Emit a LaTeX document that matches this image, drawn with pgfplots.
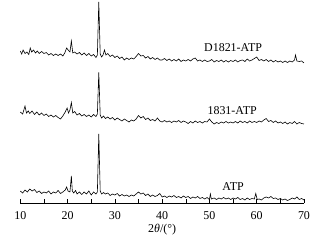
\documentclass[border=0pt]{standalone}
\usepackage{fontspec}
\setmainfont{Liberation Serif}
\usepackage{pgfplots}
\pgfplotsset{compat=1.18}
\pgfplotstableread{
x y
10.0 12
10.5 10
11.0 13
11.5 11
12.0 14
12.5 12
13.0 13.5
13.5 10.5
14.0 12
14.5 9.5
15.0 11
15.5 10
16.0 12
16.5 9
17.0 11
17.5 10
18.0 12.5
18.5 9.5
19.0 11
19.5 13
19.8 16
20.1 12
20.5 11
20.8 27
21.0 12
21.3 10
21.7 12.5
22.0 9
22.5 11
23.0 8.5
23.5 11
24.0 9
24.5 12
25.0 8
25.5 11
26.0 9
26.3 11
26.6 69
26.9 12
27.2 9
27.6 10.5
28.0 9
28.5 10
29.0 7.5
29.5 9
30.0 8
30.5 9.5
31.0 7
31.5 8.5
32.0 7
32.5 8
33.0 6.5
33.5 8
34.0 7
34.5 9
35.0 11
35.5 9
36.0 10
36.5 7.5
37.0 9
37.5 6.5
38.0 8
38.5 6.5
39.0 7.5
39.5 9.5
40.0 6
40.5 7
41.0 5.5
41.5 7
42.0 6
42.5 7.5
43.0 5.5
43.5 6.5
44.0 5
44.5 7
45.0 5.5
45.5 6.5
46.0 4.5
46.5 6
47.0 5
47.5 6.5
48.0 4.5
48.5 5.5
49.0 4
49.5 5.5
50.0 3.5
50.2 9
50.4 4
51.0 5
51.5 3.5
52.0 5
52.5 4
53.0 5.5
53.5 4
54.0 5
54.5 3.5
55.0 5
55.5 4
56.0 5.5
56.5 3.5
57.0 4.5
57.5 3
58.0 5
58.5 3.5
59.0 4.5
59.5 4
59.8 9.5
60.1 3.5
60.5 4
61.0 3
61.5 5
62.0 6
62.5 5
63.0 6.5
63.5 4.5
64.0 5
64.5 3.5
65.0 4.5
65.5 3
66.0 4
66.5 2.5
67.0 3.5
67.5 5
68.0 4
68.5 6
69.0 3.5
69.5 4.5
70.0 3
}\atp
\pgfplotstableread{
x y
10.0 91
10.5 89
11.0 97
11.3 90
11.7 92
12.0 89.5
12.5 92
13.0 88.5
13.5 91
14.0 88
14.5 90
15.0 87.5
15.5 89
16.0 86.5
16.5 88
17.0 86
17.5 87.5
18.0 85.5
18.5 84
19.0 87
19.5 91
19.9 95
20.2 90
20.5 93
20.8 100.5
21.1 90
21.5 91.5
22.0 88
22.5 89.5
23.0 87
23.5 88.5
24.0 86.5
24.5 88
25.0 86
25.5 88.5
26.0 86.5
26.3 89
26.6 130.5
26.9 88
27.2 85
27.6 87
28.0 84.5
28.5 86
29.0 84
29.5 85.5
30.0 83
30.5 85
31.0 83.5
31.5 82
32.0 84
32.5 82.5
33.0 81
33.5 83
34.0 82
34.5 84
35.0 87.5
35.5 85
36.0 86.5
36.5 83.5
37.0 85
37.5 82.5
38.0 83.5
38.5 82
39.0 85
39.5 82
40.0 81
40.5 82.5
41.0 81
41.5 82
42.0 80.5
42.5 82
43.0 81
43.5 82.5
44.0 80.5
44.5 82
45.0 81
45.5 79.5
46.0 81.5
46.5 80
47.0 82
47.5 80.5
48.0 81.5
48.5 80
49.0 81.5
49.5 81
50.0 84
50.5 81
51.0 79
51.5 80.5
52.0 79.5
52.5 81
53.0 80
53.5 81.5
54.0 80
54.5 81
55.0 80
55.5 81.5
56.0 80
56.5 82
57.0 80.5
57.5 81.5
58.0 80
58.5 82
59.0 80.5
59.5 81.5
60.0 80.5
60.5 82
61.0 81
61.5 83
62.0 84.5
62.5 81.5
63.0 82.5
63.5 80.5
64.0 82
64.5 80
65.0 81
65.5 79.5
66.0 81
66.5 79
67.0 80.5
67.5 79.5
68.0 81.5
68.5 79
69.0 80.5
69.5 79.5
70.0 79
}\sa
\pgfplotstableread{
x y
10.0 152
10.3 149
10.6 153
11.0 149.5
11.4 151
11.8 148.5
12.1 155
12.4 151
12.8 153
13.2 150
13.6 152
14.0 149.5
14.5 151.5
15.0 149.5
15.5 150.5
16.0 148
16.5 149.5
17.0 147.5
17.5 149
18.0 147.5
18.5 149
19.0 147
19.4 150
19.8 155
20.2 152.5
20.5 151
20.8 162
21.1 150
21.5 151
22.0 149
22.5 150.5
23.0 148
23.5 150
24.0 147.5
24.5 149.5
25.0 147
25.5 148.5
26.0 145.5
26.3 148
26.6 201
26.9 149
27.2 146
27.5 148
27.8 153
28.1 148
28.5 149.5
29.0 146.5
29.5 148
30.0 145.5
30.5 147
31.0 144.5
31.5 146
32.0 143
32.5 145
33.0 143.5
33.5 145
34.0 144
34.5 146.5
35.0 149.5
35.5 147
36.0 147.5
36.5 145
37.0 146.5
37.5 144
38.0 145.5
38.5 143.5
39.0 145
39.5 143
40.0 143
40.5 144.5
41.0 142.5
41.5 144
42.0 142
42.5 143.5
43.0 142
43.5 144
44.0 141.5
44.5 143
45.0 142
45.5 143.5
46.0 142
46.5 144
47.0 145
47.5 142
48.0 143
48.5 141.5
49.0 143
49.5 141.5
50.0 142
50.5 143.5
51.0 141
51.5 142.5
52.0 141.5
52.5 143
53.0 141
53.5 142.5
54.0 141
54.5 142.5
55.0 141.5
55.5 143
56.0 141
56.5 142.5
57.0 143
57.5 141.5
58.0 144
58.5 142
59.0 143
59.5 144.5
60.0 146
60.5 142.5
61.0 143.5
61.5 142
62.0 143.5
62.5 141.5
63.0 143
63.5 141
64.0 142.5
64.5 141
65.0 142
65.5 140.5
66.0 142
66.5 140.5
67.0 142
67.5 141
68.0 143
68.2 148
68.5 142
69.0 141.5
69.5 142
70.0 140
}\sb
\begin{document}
\begin{tikzpicture}
\begin{axis}[
  name=ax, at={(0,0)}, anchor=south west,
  scale only axis, width=283.7bp, height=203bp,
  xmin=10, xmax=70, ymin=0, ymax=203,
  axis x line*=bottom, axis y line=none,
  clip=false,
  xtick={10,20,...,70}, minor xtick={15,25,...,65},
  tick align=inside, major tick length=3.5bp, minor tick length=3.5bp,
  every tick/.style={black, line width=0.5pt},
  axis line style={black, line width=0.5pt},
  /pgf/number format/assume math mode=true,
  xticklabel style={font=\fontsize{12}{13}\selectfont, anchor=center, yshift=-13bp},
  xlabel={2\textit{θ}/(°)},
  xlabel style={font=\fontsize{12}{13}\selectfont, at={(axis description cs:0.5,0)}, anchor=center, yshift=-26.5bp},
]
\addplot[black, line width=0.6pt] table {\atp};
\addplot[black, line width=0.6pt] table {\sa};
\addplot[black, line width=0.6pt] table {\sb};
\node[font=\fontsize{12}{14}\selectfont] at (axis cs:55,155) {D1821-ATP};
\node[font=\fontsize{12}{14}\selectfont] at (axis cs:54.8,92) {1831-ATP};
\node[font=\fontsize{12}{14}\selectfont] at (axis cs:55,16.5) {ATP};
\end{axis}
\pgfresetboundingbox
\path[use as bounding box] ([shift={(-20.3bp,-40bp)}]ax.south west) rectangle ([shift={(310.7bp,203bp)}]ax.south west);
\end{tikzpicture}
\end{document}
